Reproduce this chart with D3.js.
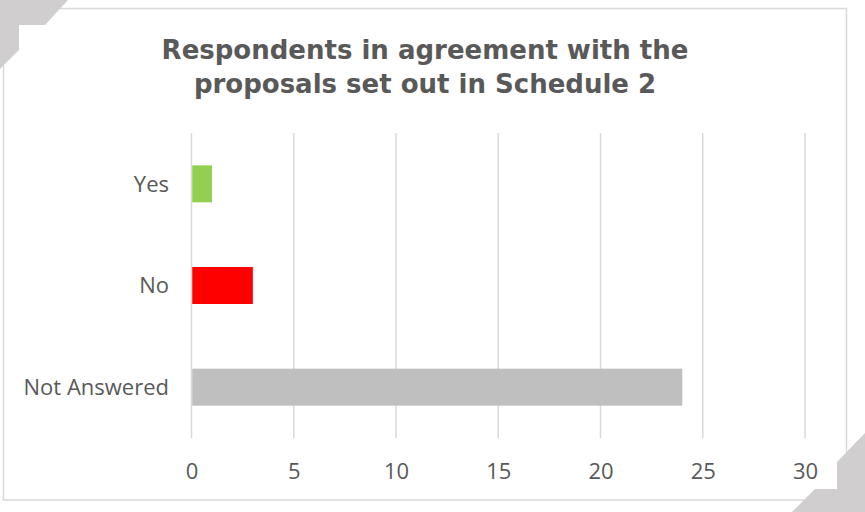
<!DOCTYPE html>
<html>
<head>
<meta charset="utf-8">
<script src="https://cdn.jsdelivr.net/npm/d3@7"></script>
<style>
  html, body { margin: 0; padding: 0; background: #fff; }
  svg { display: block; }
</style>
</head>
<body>
<svg id="chart" width="865" height="512"></svg>
<script>
// Survey responses
const categories = ["Yes", "No", "Not Answered"];
const counts = [1, 3, 24];
const barColors = ["#92d050", "#ff0000", "#bfbfbf"];
const tickValues = [0, 5, 10, 15, 20, 25, 30];
const titleLines = ["Respondents in agreement with the", "proposals set out in Schedule 2"];

const svg = d3.select("#chart");
const textColor = "#595959";
const gridColor = "#d9d9d9";
const fontFamily = "'Open Sans', 'DejaVu Sans', sans-serif";
const titleFont = "'DejaVu Sans', Verdana, sans-serif";

// Outer frame
svg.append("rect")
  .attr("x", 3.5).attr("y", 8.5)
  .attr("width", 843).attr("height", 491.5)
  .attr("fill", "#fff")
  .attr("stroke", gridColor)
  .attr("stroke-width", 1.5);

// Plot geometry
const x = d3.scaleLinear().domain([0, 30]).range([191.5, 805]);
const y = d3.scaleBand().domain(categories).range([133, 438])
  .paddingInner(0.636).paddingOuter(0.318);

// Vertical gridlines
svg.append("g")
  .selectAll("line")
  .data(tickValues)
  .join("line")
  .attr("x1", d => x(d)).attr("x2", d => x(d))
  .attr("y1", 133).attr("y2", 438)
  .attr("stroke", gridColor)
  .attr("stroke-width", 1.5);

// Bars
svg.append("g")
  .selectAll("rect")
  .data(categories)
  .join("rect")
  .attr("x", x(0) + 0.75)
  .attr("y", d => y(d))
  .attr("width", (d, i) => x(counts[i]) - x(0) - 0.75)
  .attr("height", y.bandwidth())
  .attr("fill", (d, i) => barColors[i]);

// X axis tick labels
const xAxis = d3.axisBottom(x).tickValues(tickValues).tickSize(0).tickPadding(0);
const gx = svg.append("g").attr("transform", "translate(0,479)").call(xAxis);
gx.select(".domain").remove();
gx.selectAll("text")
  .attr("y", 0).attr("dy", 0)
  .attr("fill", textColor)
  .style("font-family", fontFamily)
  .style("font-size", "22px");

// Y axis category labels
const yAxis = d3.axisLeft(y).tickSize(0).tickPadding(0);
const gy = svg.append("g").attr("transform", "translate(169,0)").call(yAxis);
gy.select(".domain").remove();
gy.selectAll("text")
  .attr("x", 0)
  .attr("dy", "0.35em")
  .attr("fill", textColor)
  .style("font-family", fontFamily)
  .style("font-size", "22px");

// Title
svg.append("g")
  .selectAll("text")
  .data(titleLines)
  .join("text")
  .attr("x", 425)
  .attr("y", (d, i) => 59 + i * 34)
  .attr("text-anchor", "middle")
  .attr("fill", textColor)
  .style("font-family", titleFont)
  .style("font-weight", "bold")
  .style("font-size", "26px")
  .text(d => d);

// Corner decorations
const cornerColor = "#d0cece";
svg.append("polygon")
  .attr("points", [[0,0],[68,0],[45,25],[19,25],[19,50],[0,69]].map(p => p.join(",")).join(" "))
  .attr("fill", cornerColor);
svg.append("polygon")
  .attr("points", [[865,433],[837,462],[837,489],[815,489],[792,512],[865,512]].map(p => p.join(",")).join(" "))
  .attr("fill", cornerColor);
</script>
</body>
</html>
